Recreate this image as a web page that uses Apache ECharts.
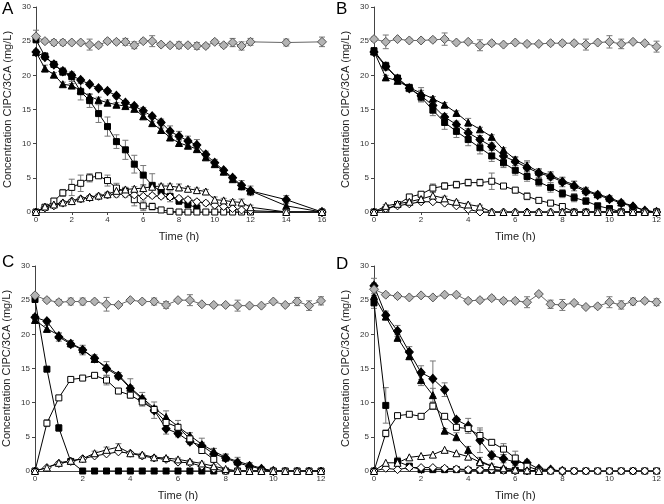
<!DOCTYPE html>
<html><head><meta charset="utf-8">
<script src="https://cdn.jsdelivr.net/npm/echarts@6/dist/echarts.min.js"></script>
<style>html,body{margin:0;padding:0;background:#fff}#c{width:664px;height:504px}</style>
</head><body><div id="c"></div>
<script>
// ---- time points ----
const timeA = [0,0.5,1,1.5,2,2.5,3,3.5,4,4.5,5,5.5,6,6.5,7,7.5,8,8.5,9,9.5,10,10.5,11,11.5,12,14,16];
const time12 = [0,0.5,1,1.5,2,2.5,3,3.5,4,4.5,5,5.5,6,6.5,7,7.5,8,8.5,9,9.5,10,10.5,11,11.5,12];
const xTicksA = [0,2,4,6,8,10,12,14,16];
const xTicks12 = [0,2,4,6,8,10,12];
const yTicks = [0,5,10,15,20,25,30];
const panelLabels = ['A','B','C','D'];

// ---- Panel A ----
const aCtrl = [25.7,25.0,24.8,24.8,24.8,24.8,24.5,24.4,25.0,24.9,24.9,24.4,25.0,25.0,24.5,24.4,24.4,24.4,24.3,24.3,24.9,24.4,24.8,24.3,24.9,24.8,24.9];
const aCtrlErr = [0.9,0.3,0.4,0.4,0.3,0.3,0.8,0.3,0.3,0.3,0.5,0.5,0.3,0.8,0.3,0.3,0.5,0.3,0.5,0.3,0.3,0.3,0.6,0.6,0.5,0.5,0.7];
const aSqF = [25.2,22.8,21.6,20.5,19.8,17.6,16.3,14.4,12.5,10.3,9.1,7.0,5.4,3.9,3.0,2.3,1.6,1.1,0.6];
const aSqFErr = [0.3,0.5,0.3,0.5,0.7,1.2,1.0,1.3,1.4,1.0,1.4,1.3,1.4,1.7,1.0,0.8,0.5,0.4,0.3];
const aDiaF = [23.4,22.7,21.6,20.6,20.0,19.3,18.7,18.1,17.7,17.0,16.0,15.5,14.8,14.0,13.1,11.8,11.1,10.4,9.8,8.4,7.2,6.1,5.0,3.9,3.1,1.8,0];
const aDiaFErr = [0.3,0.3,0.3,0.5,0.3,0.3,0.3,0.3,0.3,0.3,0.3,0.3,0.5,0.3,0.5,0.8,0.7,0.7,0.8,0.5,0.5,0.3,0.3,0.7,0.7,0.6,0];
const aTriF = [23.4,21.0,20.1,18.7,18.5,17.8,16.9,16.4,16.0,15.7,15.5,15.1,14.0,13.0,12.0,10.9,10.1,9.7,9.2,8.0,7.0,5.9,4.8,3.8,3.1,0.9,0];
const aTriFErr = [0.3,0.5,0.3,0.3,0.3,0.3,0.3,0.4,0.4,0.3,0.3,0.3,0.3,0.3,0.3,0.3,0.5,0.3,0.3,0.4,0.3,0.3,0.3,0.3,0.3,0.4,0];
const aSqO = [0,0.7,1.6,2.8,3.6,4.2,5.0,5.3,4.6,3.5,3.0,1.8,0.9,0.8,0.3,0.1,0,0,0,0,0,0,0,0,0,0,0];
const aSqOErr = [0,0.3,0.4,0.5,1.2,1.2,0.6,0.3,0.8,0.7,0.6,0.9,0.7,0.5,0.2,0,0,0,0,0,0,0,0,0,0,0,0];
const aDiaO = [0,0.6,0.9,1.3,1.6,1.9,2.1,2.3,2.5,2.6,2.6,2.5,2.3,2.4,2.3,2.2,2.0,1.8,1.5,1.3,1.0,0.8,0.5,0.3,0.2,0,0];
const aDiaOErr = [0,0.2,0.2,0.2,0.2,0.2,0.2,0.3,0.3,0.4,0.4,0.3,0.3,0.3,0.3,0.3,0.3,0.3,0.3,0.3,0.3,0.3,0.2,0.2,0.2,0,0];
const aTriO = [0,0.8,1.1,1.4,1.6,2.0,2.2,2.4,2.6,3.1,3.3,3.4,3.5,3.7,3.8,3.8,3.6,3.4,3.2,3.0,1.8,1.7,1.5,1.4,0.7,0,0];
const aTriOErr = [0,0.2,0.2,0.2,0.2,0.2,0.2,0.2,0.3,0.5,0.3,0.3,0.3,0.3,0.3,0.3,0.5,0.3,0.3,0.3,0.4,0.3,0.3,0.5,0.3,0,0];

// ---- Panel B ----
const bCtrl = [25.3,24.9,25.3,25.1,25.1,25.2,25.3,24.8,24.9,24.4,24.7,24.5,24.8,24.6,24.6,24.7,24.7,24.7,24.5,24.8,24.9,24.6,24.9,24.7,24.2];
const bCtrlErr = [0.3,1.0,0.2,0.3,0.3,0.3,0.9,0.2,0.2,0.8,0.3,0.2,0.2,0.3,0.2,0.3,0.3,0.3,0.8,0.2,0.9,0.7,0.2,0.2,0.8];
const bSqF = [23.6,21.4,19.6,18.2,16.8,14.9,13.1,11.8,10.6,9.4,8.2,7.2,6.1,5.2,4.4,3.6,2.7,2.1,1.6,0.9,0.5,0,0,0,0];
const bSqFErr = [0.4,0.5,0.4,0.5,0.7,0.8,1.0,0.9,0.9,0.9,0.8,0.7,0.7,0.7,0.6,0.7,0.6,0.6,0.5,0.4,0.3,0,0,0,0];
const bDiaF = [23.4,21.3,19.5,18.1,17.0,15.6,13.9,12.8,11.6,10.6,9.6,8.2,7.4,6.5,5.7,5.2,4.4,3.8,3.0,2.5,1.9,1.3,0.8,0.2,0];
const bDiaFErr = [0.4,0.6,0.4,0.5,0.8,0.5,0.5,0.5,0.6,0.6,0.5,0.5,0.6,0.8,0.6,0.5,0.7,0.7,0.5,0.4,0.4,0.4,0.3,0.2,0];
const bTriF = [23.5,19.7,19.2,18.2,17.4,16.6,15.7,14.5,13.1,12.1,11.0,9.1,7.7,6.8,5.9,5.4,4.6,4.0,3.2,2.6,2.1,1.4,0.9,0.2,0];
const bTriFErr = [0.3,0.3,0.3,0.4,0.8,0.3,0.3,0.3,0.6,0.3,0.3,0.3,0.4,0.7,0.4,0.5,0.4,0.5,0.4,0.3,0.3,0.3,0.2,0.2,0];
const bSqO = [0,0.4,1.1,2.2,2.6,3.5,3.8,4.0,4.3,4.3,4.5,3.8,3.2,2.3,1.7,1.3,0.8,0,0,0,0,0,0,0,0];
const bSqOErr = [0,0.2,0.2,0.3,0.4,0.6,0.5,0.5,0.5,0.5,1.2,0.3,0.4,0.5,0.3,0.2,0.3,0,0,0,0,0,0,0,0];
const bDiaO = [0,0.5,0.9,1.2,1.5,1.5,1.3,0.9,0.4,0,0,0,0,0,0,0,0,0,0,0,0,0,0,0,0];
const bTriO = [0,0.9,1.2,1.5,1.9,2.4,2.0,1.5,1.1,0.8,0,0,0,0,0,0,0,0,0,0,0,0,0,0,0];
const bTriOErr = [0,0.2,0.2,0.2,0.3,0.5,0.3,0.2,0.2,0.2,0,0,0,0,0,0,0,0,0,0,0,0,0,0,0];

// ---- Panel C ----
const cCtrl = [25.7,25.0,24.7,24.8,24.8,24.8,24.4,24.3,25.0,24.8,24.8,24.3,25.0,25.0,24.4,24.3,24.3,24.2,24.2,24.2,24.8,24.3,24.8,24.2,24.9];
const cCtrlErr = [0.3,0.3,0.4,0.5,0.5,0.3,1.0,0.2,0.2,0.3,0.5,0.5,0.2,0.8,0.2,0.2,0.2,0.8,0.2,0.2,0.2,0.2,0.6,0.7,0.6];
const cSqF = [25.1,14.9,6.3,1.4,0,0,0,0,0,0,0,0,0,0,0,0];
const cSqFErr = [0.3,0.3,0.5,0.3,0,0,0,0,0,0,0,0,0,0,0,0];
const cDiaF = [22.5,21.9,19.6,18.6,17.7,16.5,15.0,13.9,12.1,10.5,8.9,6.2,5.5,4.3,3.7,2.5,1.9,1.2,0.7,0.3,0];
const cDiaFErr = [0.4,0.3,0.6,0.5,0.7,0.5,1.0,0.5,1.4,1.0,1.2,0.8,0.5,0.4,0.5,0.8,0.5,0.8,0.5,0.3,0];
const cTriF = [22.1,20.8,19.9,18.7,17.8,16.4,15.2,14.1,12.2,10.7,9.2,7.9,6.5,5.2,3.9,2.9,2.0,1.4,0.9,0.4,0];
const cTriFErr = [0.3,0.5,0.3,0.4,0.3,0.3,0.3,0.3,0.3,0.3,0.3,0.9,0.9,0.4,0.9,0.4,0.5,0.3,0.3,0.2,0];
const cSqO = [0,7.0,10.7,13.4,13.6,14.0,13.3,11.7,11.1,10.1,9.0,7.1,6.4,4.7,3.0,1.7,0,0,0,0,0,0,0,0,0];
const cSqOErr = [0,0.5,0.3,0.2,0.2,0.2,0.7,0.2,0.3,0.3,0.5,0.4,0.4,0.4,0.4,0.3,0,0,0,0,0,0,0,0,0];
const cDiaO = [0,0.5,1.1,1.4,1.8,2.2,2.5,2.8,2.6,2.2,1.9,1.7,1.3,1.2,0.7,0.3,0,0,0,0,0,0,0,0,0];
const cTriO = [0,0.5,1.2,1.5,1.8,2.6,3.1,3.5,2.6,2.4,2.0,1.9,1.7,1.4,1.1,0.7,0.3,0,0,0,0,0,0,0,0];
const cTriOErr = [0,0.1,0.2,0.2,0.2,0.3,0.4,0.5,0.2,0.2,0.2,0.2,0.2,0.2,0.2,0.2,0.1,0,0,0,0,0,0,0,0];

// ---- Panel D ----
const dCtrl = [26.6,25.8,25.6,25.4,25.7,25.4,25.8,25.8,24.9,25.0,25.3,24.9,24.9,24.7,25.9,24.4,24.3,24.6,24.0,24.1,24.7,24.3,24.8,24.9,24.7];
const dCtrlErr = [0.9,0.3,0.3,0.2,0.2,0.2,0.2,0.2,0.3,0.3,0.3,0.3,0.3,0.8,0.2,0.6,0.8,0.2,0.2,0.3,0.8,0.6,0.5,0.3,0.5];
const dSqF = [24.6,9.6,1.4,0.7,0.2,0.2,0.2,0.2,0.1,0.1,0.1,0.1,0.1,0.1,0];
const dSqFErr = [0.8,2.6,0.6,0.3,0.1,0.1,0.1,0.1,0.1,0.1,0.1,0.1,0.1,0.1,0];
const dDiaF = [27.1,22.8,20.5,17.4,14.4,13.5,11.9,7.5,6.6,4.5,2.3,1.8,1.3,1.2,0.3,0.2,0];
const dDiaFErr = [1.1,0.6,0.8,0.8,1.0,2.6,1.0,0.3,1.1,1.8,0.6,0.6,0.5,0.4,0.2,0.1,0];
const dTriF = [25.6,22.6,19.5,16.8,13.3,11.1,5.9,5.0,3.1,1.5,0.7,0.4,0.2,0.1,0];
const dTriFErr = [0.8,0.5,0.5,0.5,0.8,1.0,0.3,0.6,0.5,0.5,0.3,0.2,0.1,0.1,0];
const dSqO = [0,5.5,8.1,8.3,8.0,9.5,8.0,6.4,6.2,5.2,4.2,3.2,1.9,0.7,0.1,0,0,0,0,0,0,0,0,0,0];
const dSqOErr = [0,0.5,0.3,0.2,0.2,0.5,0.2,0.4,0.4,0.8,0.4,0.8,1.0,0.4,0.2,0,0,0,0,0,0,0,0,0,0];
const dDiaO = [0,0.4,0.2,0.5,0.5,0.5,0.4,0.3,0.2,0.2,0.2,0.1,0,0,0,0,0,0,0,0,0,0,0,0,0];
const dTriO = [0,1.2,1.2,2.0,2.2,2.4,3.1,2.6,2.1,1.3,0.7,0.4,0.2,0.1,0];

// ---- styles ----
const ST = {
  sqF:  {symbol:'rect', size:6, fill:'#000', stroke:'#000', line:'#000'},
  diaF: {symbol:'diamond', size:[8,9], fill:'#000', stroke:'#000', line:'#000'},
  triF: {symbol:'triangle', size:7, fill:'#000', stroke:'#000', line:'#000'},
  sqO:  {symbol:'rect', size:6, fill:'#fff', stroke:'#000', line:'#000'},
  diaO: {symbol:'diamond', size:[8,8], fill:'#fff', stroke:'#000', line:'#000'},
  triO: {symbol:'triangle', size:7, fill:'#fff', stroke:'#000', line:'#000'},
  ctrl: {symbol:'diamond', size:[9,9], fill:'#b4b4b4', stroke:'#555', line:'#666'}
};

const panels = [
  {t: timeA, xmax:16, xticks:xTicksA, sets:[
    ['sqF',aSqF,aSqFErr],['diaF',aDiaF,aDiaFErr],['triF',aTriF,aTriFErr],
    ['sqO',aSqO,aSqOErr],['diaO',aDiaO,aDiaOErr],['triO',aTriO,aTriOErr],['ctrl',aCtrl,aCtrlErr]]},
  {t: time12, xmax:12, xticks:xTicks12, sets:[
    ['sqF',bSqF,bSqFErr],['diaF',bDiaF,bDiaFErr],['triF',bTriF,bTriFErr],
    ['sqO',bSqO,bSqOErr],['diaO',bDiaO,null],['triO',bTriO,bTriOErr],['ctrl',bCtrl,bCtrlErr]]},
  {t: time12, xmax:12, xticks:xTicks12, sets:[
    ['sqF',cSqF,cSqFErr],['diaF',cDiaF,cDiaFErr],['triF',cTriF,cTriFErr],
    ['sqO',cSqO,cSqOErr],['diaO',cDiaO,null],['triO',cTriO,cTriOErr],['ctrl',cCtrl,cCtrlErr]]},
  {t: time12, xmax:12, xticks:xTicks12, sets:[
    ['sqF',dSqF,dSqFErr],['diaF',dDiaF,dDiaFErr],['triF',dTriF,dTriFErr],
    ['sqO',dSqO,dSqOErr],['diaO',dDiaO,null],['triO',dTriO,null],['ctrl',dCtrl,dCtrlErr]]}
];

const grids = [
  {left:36, top:7, width:286, height:205},
  {left:374, top:7, width:286, height:205},
  {left:35, top:266, width:286, height:205},
  {left:374, top:266, width:286, height:205}
];

const xAxes = [], yAxes = [], series = [], titles = [];
const titlePos = [[2,1],[336,1],[2,254],[336,256]];

function errRender(params, api) {
  const x = api.value(0), lo = api.value(1), hi = api.value(2);
  const p1 = api.coord([x, hi]), p2 = api.coord([x, lo]);
  const w = 3;
  const s = {stroke:'#777', lineWidth:1};
  return {type:'group', children:[
    {type:'line', shape:{x1:p1[0],y1:p1[1],x2:p2[0],y2:p2[1]}, style:s},
    {type:'line', shape:{x1:p1[0]-w,y1:p1[1],x2:p1[0]+w,y2:p1[1]}, style:s},
    {type:'line', shape:{x1:p2[0]-w,y1:p2[1],x2:p2[0]+w,y2:p2[1]}, style:s}
  ]};
}

panels.forEach((p, i) => {
  xAxes.push({
    gridIndex:i, type:'value', min:0, max:p.xmax, interval:2,
    name:'Time (h)', nameLocation:'middle', nameGap:19,
    nameTextStyle:{fontSize:11, color:'#222', fontFamily:'Liberation Sans'},
    axisLine:{lineStyle:{color:'#444', width:1}},
    axisTick:{show:true, length:3, lineStyle:{color:'#444'}},
    axisLabel:{fontSize:8, color:'#333', margin:4, fontFamily:'Liberation Sans',
      customValues: undefined},
    splitLine:{show:false}
  });
  yAxes.push({
    gridIndex:i, type:'value', min:0, max:30, interval:5,
    name:'Concentration CIPC/3CA (mg/L)', nameLocation:'middle', nameGap:23,
    nameTextStyle:{fontSize:11, color:'#222', fontFamily:'Liberation Sans'},
    axisLine:{show:true, lineStyle:{color:'#444', width:1}},
    axisTick:{show:true, length:3, lineStyle:{color:'#444'}},
    axisLabel:{fontSize:8, color:'#333', margin:5, fontFamily:'Liberation Sans'},
    splitLine:{show:false}
  });
  titles.push({text:panelLabels[i], left:titlePos[i][0], top:titlePos[i][1], padding:0,
    textStyle:{fontSize:17, fontWeight:'normal', color:'#000', fontFamily:'Liberation Sans'}});

  p.sets.forEach(([key, vals, errs]) => {
    const st = ST[key];
    const pts = [];
    const ebars = [];
    vals.forEach((v, k) => {
      if (v === null || v === undefined) return;
      pts.push([p.t[k], v]);
      if (errs && errs[k]) ebars.push([p.t[k], Math.max(0, v - errs[k]), v + errs[k]]);
    });
    if (ebars.length) series.push({
      type:'custom', xAxisIndex:i, yAxisIndex:i, renderItem:errRender, data:ebars,
      z:1, silent:true, clip:false
    });
    series.push({
      type:'line', xAxisIndex:i, yAxisIndex:i, data:pts,
      symbol:st.symbol, symbolSize:st.size, showAllSymbol:true,
      lineStyle:{color:st.line, width:1},
      itemStyle:{color:st.fill, borderColor:st.stroke, borderWidth:1},
      z: key==='ctrl' ? 4 : (key.endsWith('O') ? 3 : 2),
      silent:true
    });
  });
});

const chart = echarts.init(document.getElementById('c'), null, {renderer:'canvas'});
chart.setOption({
  animation:false,
  backgroundColor:'#fff',
  title:titles,
  grid:grids,
  xAxis:xAxes,
  yAxis:yAxes,
  series:series
});
</script></body></html>
